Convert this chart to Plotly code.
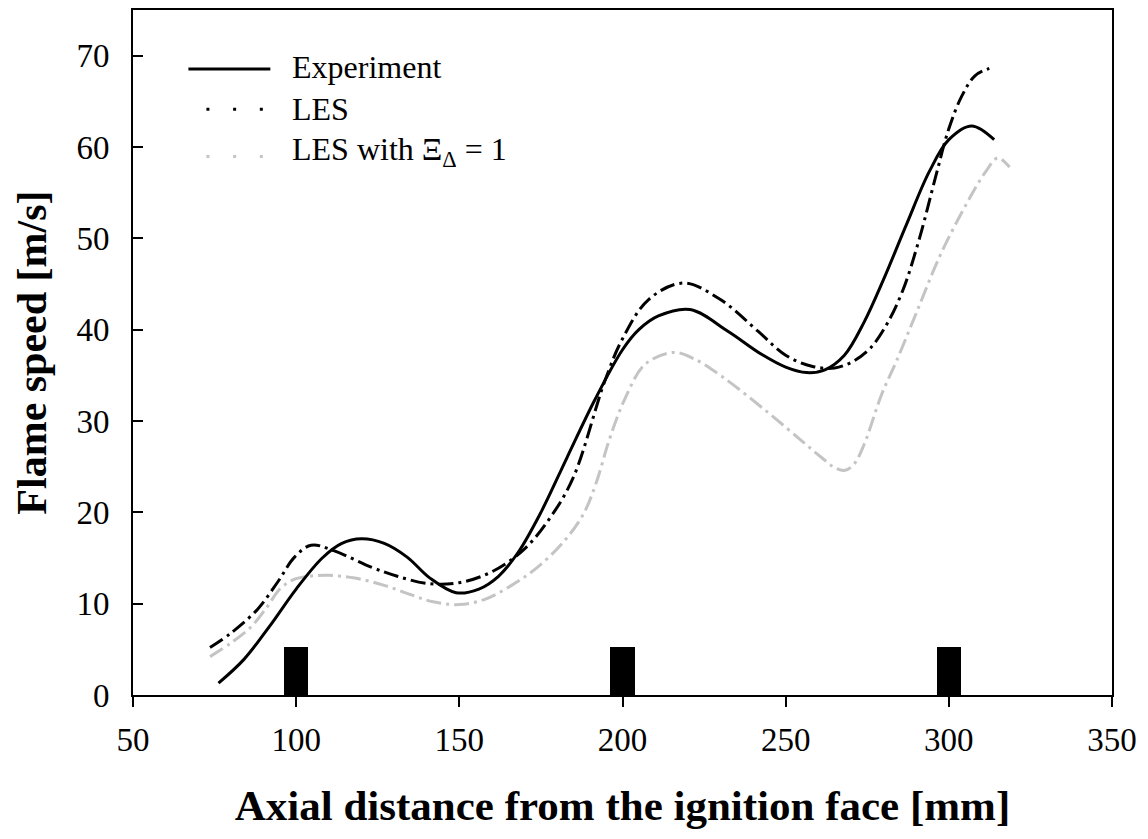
import plotly.graph_objects as go

# ---------------- data ----------------
exp_x = [76.2, 84.0, 92.0, 100.0, 108.0, 114.0, 120.0, 127.0, 134.0, 141.0, 149.0, 156.0, 162.0,
         168.0, 175.0, 183.0, 191.5, 200.0, 205.0, 211.0, 220.7, 232.4, 242.6, 250.0, 256.4,
         262.0, 268.0, 274.0, 280.0, 287.0, 294.0, 300.0, 307.0, 313.9]
exp_y = [1.3, 3.9, 7.6, 11.6, 15.0, 16.6, 17.1, 16.6, 15.1, 12.8, 11.2, 11.6, 13.0,
         15.6, 20.0, 26.0, 32.3, 37.8, 40.0, 41.5, 42.2, 39.8, 37.3, 35.9, 35.3,
         35.6, 37.2, 40.8, 45.5, 51.5, 57.3, 60.8, 62.3, 60.8]

les_x = [73.6, 80.1, 88.2, 94.4, 99.5, 104.6, 111.5, 123.0, 131.0, 140.4, 150.0, 160.0, 170.0,
         178.0, 184.9, 194.6, 200.0, 208.0, 218.6, 230.0, 241.6, 250.0, 258.0, 265.0, 271.0,
         276.0, 281.0, 286.0, 291.0, 296.0, 300.0, 304.0, 308.0, 312.4]
les_y = [5.2, 6.8, 9.4, 12.4, 15.1, 16.4, 15.8, 14.0, 13.0, 12.2, 12.3, 13.5, 16.0,
         19.5, 23.8, 34.4, 39.0, 43.3, 45.1, 43.3, 39.8, 37.2, 36.0, 35.8, 36.6,
         38.0, 40.6, 44.4, 50.0, 56.8, 62.0, 65.6, 67.8, 68.6]

les1_x = [73.6, 80.0, 86.0, 91.0, 95.0, 99.0, 104.0, 110.0, 118.0, 127.0, 135.0, 142.0, 150.0,
          158.0, 166.0, 174.0, 182.0, 188.0, 192.0, 196.0, 200.7, 206.9, 215.5, 222.0, 230.4,
          244.7, 255.0, 261.0, 265.0, 268.2, 271.0, 274.0, 279.4, 284.0, 290.0, 297.3, 305.6,
          311.3, 315.0, 318.6]
les1_y = [4.2, 5.7, 7.4, 9.6, 11.6, 12.6, 13.0, 13.1, 12.8, 12.0, 11.0, 10.2, 9.9,
          10.5, 12.0, 14.0, 16.8, 19.8, 23.3, 28.0, 32.4, 36.2, 37.5, 36.8, 34.9,
          30.9, 27.8, 26.0, 24.9, 24.6, 25.3, 27.4, 32.9, 36.6, 41.8, 48.1, 53.9,
          57.3, 58.8, 57.8]

obstacle_x = [100, 200, 300]
obstacle_h = [5.3, 5.3, 5.3]

x_ticks = [50, 100, 150, 200, 250, 300, 350]
y_ticks = [0, 10, 20, 30, 40, 50, 60, 70]

legend_names = ["Experiment", "LES", "LES with Ξ<sub>Δ</sub> = 1"]
x_title = "Axial distance from the ignition face [mm]"
y_title = "Flame speed [m/s]"

# ---------------- styles ----------------
FONT = "Liberation Serif"
BLACK = "#000000"
GRAY = "#c4c4c4"
DASHDOT = "15px,5px,3px,5px"

fig = go.Figure()

fig.add_trace(go.Bar(x=obstacle_x, y=obstacle_h, width=7.5, marker=dict(color=BLACK, line=dict(width=0)),
                     showlegend=False, hoverinfo="skip"))

fig.add_trace(go.Scatter(x=les1_x, y=les1_y, mode="lines", name="LES with Xi=1",
                         line=dict(color=GRAY, width=3, dash=DASHDOT, shape="spline", smoothing=1.0),
                         showlegend=False))
fig.add_trace(go.Scatter(x=les_x, y=les_y, mode="lines", name="LES",
                         line=dict(color=BLACK, width=3, dash=DASHDOT, shape="spline", smoothing=1.0),
                         showlegend=False))
fig.add_trace(go.Scatter(x=exp_x, y=exp_y, mode="lines", name="Experiment",
                         line=dict(color=BLACK, width=3, shape="spline", smoothing=1.0),
                         showlegend=False))

# ---------------- manual legend (paper coords) ----------------
leg_line_y = [0.914, 0.855, 0.786]
leg_text_y = [0.9165, 0.856, 0.7935]
leg_styles = [dict(color=BLACK, width=3, dash="solid"),
              dict(color=BLACK, width=3, dash="3px,23.7px"),
              dict(color=GRAY, width=3, dash="3px,23.7px")]
leg_x0 = [0.0566, 0.075, 0.075]
for i, name in enumerate(legend_names):
    fig.add_shape(type="line", xref="paper", yref="paper", x0=leg_x0[i], x1=0.1403,
                  y0=leg_line_y[i], y1=leg_line_y[i], line=leg_styles[i])
    fig.add_annotation(xref="paper", yref="paper", x=0.1608, y=leg_text_y[i], xanchor="left",
                       yanchor="middle", text=name, showarrow=False,
                       font=dict(family=FONT, size=32, color=BLACK))

# y-axis title as rotated annotation for precise placement
fig.add_annotation(xref="paper", yref="paper", x=-0.104, y=0.5, xanchor="center", yanchor="middle",
                   text=y_title, textangle=-90, showarrow=False,
                   font=dict(family=FONT, size=42, color=BLACK, weight="bold"))

axis_common = dict(showline=True, linecolor=BLACK, linewidth=2, mirror=True, showgrid=False,
                   zeroline=False, tickcolor=BLACK, tickwidth=1.5, ticklen=10,
                   tickfont=dict(family=FONT, size=33, color=BLACK))

fig.update_layout(
    width=1148, height=839,
    margin=dict(l=133, r=36, t=8, b=144),
    paper_bgcolor="white", plot_bgcolor="white",
    bargap=0,
    xaxis=dict(range=[50, 350], tickvals=x_ticks, ticks="outside", ticklabelstandoff=4,
               title=dict(text=x_title,
                          font=dict(family=FONT, size=43, color=BLACK, weight="bold"), standoff=33),
               **axis_common),
    yaxis=dict(range=[0, 75], tickvals=y_ticks, ticks="inside", ticklabelstandoff=15,
               **axis_common),
)

fig.write_html("out.html")
